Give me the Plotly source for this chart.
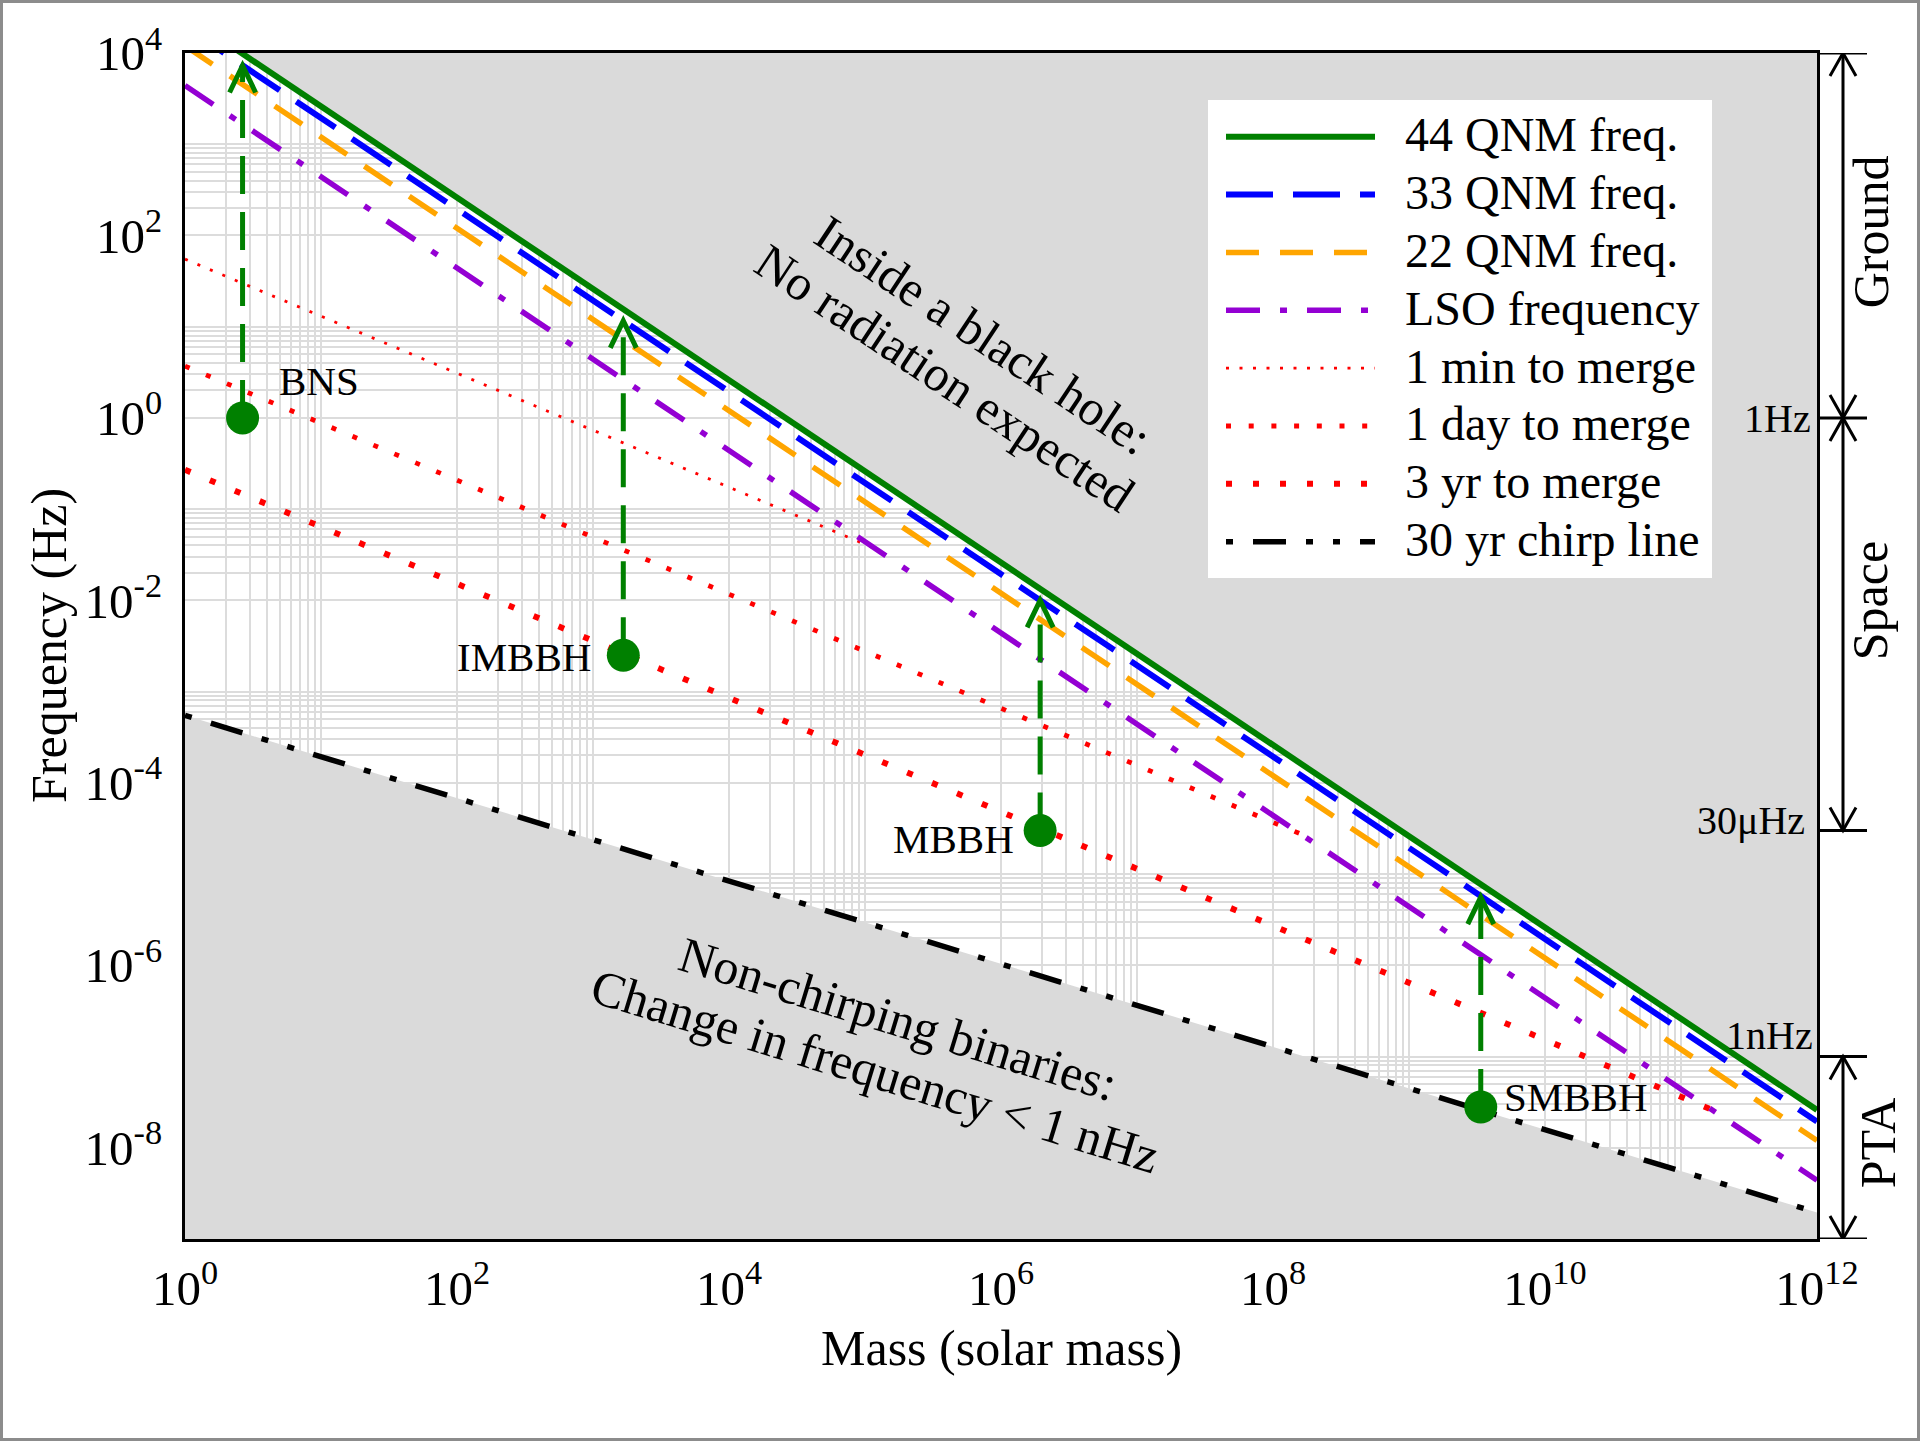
import math
import plotly.graph_objects as go

# ---------------------------------------------------------------- data ---
# Straight (power-law) curves in the log-log plane, given by their end points:
# mass in solar masses, frequency in Hz.
mass_span = [1.0, 1.0e12]
freq_qnm44 = [2.6e4, 2.6e-8]
freq_qnm33 = [1.94e4, 1.94e-8]
freq_qnm22 = [1.2e4, 1.2e-8]
freq_lso = [4.4e3, 4.4e-9]
freq_chirp30yr = [5.5e-4, 1.95e-9]

# time-to-merger lines stop where they meet the LSO line
mass_1min = [1.0, 1.3e5]
freq_1min = [55.0, 3.5e-2]
mass_1day = [1.0, 1.6e8]
freq_1day = [3.7, 2.75e-5]
mass_3yr = [1.0, 1.7e11]
freq_3yr = [0.27, 2.6e-8]

# example sources: starting frequency and ringdown frequency
source_names = ["BNS", "IMBBH", "MBBH", "SMBBH"]
source_mass = [2.65, 1.67e3, 1.94e6, 3.37e9]
source_freq_start = [1.0, 2.5e-3, 3.0e-5, 2.8e-8]
source_freq_end = [7.3e3, 11.6, 1.0e-2, 5.6e-6]

# detector bands marked at the right of the axes
band_names = ["Ground", "Space", "PTA"]
band_freq_high = [1.0e4, 1.0, 1.0e-7]
band_freq_low = [1.0, 3.0e-5, 1.0e-9]
edge_labels = ["1Hz", "30μHz", "1nHz"]
edge_freqs = [1.0, 3.0e-5, 1.0e-7]

mass_range = [1.0, 1.0e12]
freq_range = [1.0e-9, 1.0e4]
mass_tick_exponents = [0, 2, 4, 6, 8, 10, 12]
freq_tick_exponents = [-8, -6, -4, -2, 0, 2, 4]

series_names = ["44 QNM freq.", "33 QNM freq.", "22 QNM freq.", "LSO frequency",
                "1 min to merge", "1 day to merge", "3 yr to merge", "30 yr chirp line"]

# --------------------------------------------------------------- style ---
FONT = "Liberation Serif"
GREY = "#dadada"
GRID = "#dcdcdc"
GREEN = "#008000"

series_styles = [
    dict(color=GREEN, width=6, dash="solid"),
    dict(color="#0000ff", width=6, dash="47px,20px"),
    dict(color="#ffa500", width=5.5, dash="33px,21px"),
    dict(color="#9400d3", width=5.5, dash="34px,20px,7px,20px"),
    dict(color="#ff0000", width=2.8, dash="3px,10.5px"),
    dict(color="#ff0000", width=4.8, dash="5px,17.7px"),
    dict(color="#ff0000", width=6, dash="6px,21px"),
    dict(color="#000000", width=5.5, dash="7px,20px,33px,20px,7px,20px"),
]
series_data = [
    (mass_span, freq_qnm44), (mass_span, freq_qnm33), (mass_span, freq_qnm22),
    (mass_span, freq_lso), (mass_1min, freq_1min), (mass_1day, freq_1day),
    (mass_3yr, freq_3yr), (mass_span, freq_chirp30yr),
]

# page geometry (pixels)
W, H = 1920, 1442
L, R, T, B = 185, 1817, 53, 1239


def px(x):
    return (x - L) / (R - L)


def py(y):
    return (B - y) / (B - T)


fig = go.Figure()

# shaded regions: above the highest ringdown line, below the chirp line
fig.add_trace(go.Scatter(
    x=[mass_span[0], mass_span[1], mass_span[1]],
    y=[freq_qnm44[0], freq_qnm44[1], freq_qnm44[0]],
    fill="toself", fillcolor=GREY, mode="lines",
    line=dict(width=0, color=GREY), hoverinfo="skip", showlegend=False))
fig.add_trace(go.Scatter(
    x=[mass_span[0], mass_span[1], mass_span[1], mass_span[0]],
    y=[freq_chirp30yr[0], freq_chirp30yr[1], freq_range[0], freq_range[0]],
    fill="toself", fillcolor=GREY, mode="lines",
    line=dict(width=0, color=GREY), hoverinfo="skip", showlegend=False))

# characteristic lines, drawn bottom-up so the ringdown lines sit on top
for idx in [7, 6, 5, 4, 3, 2, 1, 0]:
    (mx, fy), st = series_data[idx], series_styles[idx]
    fig.add_trace(go.Scatter(x=mx, y=fy, mode="lines", name=series_names[idx],
                             line=dict(color=st["color"], width=st["width"], dash=st["dash"]),
                             showlegend=False))

# source tracks: dashed rise from the starting frequency to ringdown
for m, f0, f1 in zip(source_mass, source_freq_start, source_freq_end):
    fig.add_trace(go.Scatter(x=[m, m], y=[f0, f1], mode="lines",
                             line=dict(color=GREEN, width=5, dash="38px,18px"),
                             showlegend=False, hoverinfo="skip"))
fig.add_trace(go.Scatter(x=source_mass, y=source_freq_start, mode="markers",
                         marker=dict(color=GREEN, size=33, symbol="circle"),
                         text=source_names, showlegend=False))

annotations = []
shapes = []

V_UP = "M-13,-27 L0,0 L13,-27"       # open head, tip at the anchor, pointing up
V_UP_S = "M-13,-23 L0,0 L13,-23"
V_DOWN_S = "M-13,23 L0,0 L13,23"

# open arrow heads on the source tracks
for m, f1 in zip(source_mass, source_freq_end):
    shapes.append(dict(type="path", xref="x", yref="y", xsizemode="pixel", ysizemode="pixel",
                       xanchor=m, yanchor=f1, path=V_UP,
                       line=dict(color=GREEN, width=5), layer="above"))

# source labels
label_specs = [
    ("BNS", 0.676, 0.40, "left"),
    ("IMBBH", 3.0, -2.62, "right"),
    ("MBBH", 6.11, -4.62, "right"),
    ("SMBBH", 9.684, -7.44, "left"),
]
for txt, lx, ly, anc in label_specs:
    annotations.append(dict(x=lx, y=ly, xref="x", yref="y", text=txt, showarrow=False,
                            xanchor=anc, yanchor="middle",
                            font=dict(family=FONT, size=41, color="black")))

# region notes
region_notes = [
    ("Inside a black hole:", 5.868, 0.906, 33.5),
    ("No radiation expected", 5.588, 0.435, 33.5),
    ("Non-chirping binaries:", 5.243, -6.59, 17),
    ("Change in frequency < 1 nHz", 5.074, -7.16, 17),
]
for txt, lx, ly, ang in region_notes:
    annotations.append(dict(x=lx, y=ly, xref="x", yref="y", text=txt, showarrow=False,
                            textangle=ang, xanchor="center", yanchor="middle",
                            font=dict(family=FONT, size=50, color="black")))

# detector band brackets on the right
BX = 1843
for f in [freq_range[1]] + edge_freqs + [freq_range[0]]:
    shapes.append(dict(type="line", xref="paper", yref="y", x0=px(1817), x1=px(1867),
                       y0=f, y1=f, line=dict(color="black", width=3), layer="above"))
for hi, lo in zip(band_freq_high, band_freq_low):
    shapes.append(dict(type="line", xref="paper", yref="y", x0=px(BX), x1=px(BX),
                       y0=hi, y1=lo, line=dict(color="black", width=3), layer="above"))
    for f, head in ((hi, V_UP_S), (lo, V_DOWN_S)):
        shapes.append(dict(type="path", xref="paper", yref="y", xsizemode="pixel",
                           ysizemode="pixel", xanchor=px(BX), yanchor=f, path=head,
                           line=dict(color="black", width=3), layer="above"))
band_label_pos = [(1871, 2.035), (1870, -2.01), (1878, -7.95)]
for name, (bx, by) in zip(band_names, band_label_pos):
    annotations.append(dict(x=px(bx), y=by, xref="paper", yref="y", text=name,
                            showarrow=False, textangle=-90, xanchor="center",
                            yanchor="middle", font=dict(family=FONT, size=50, color="black")))
edge_label_pos = [(1813, -0.01), (1807, -4.41), (1815, -6.77)]
for txt, (ex, ey) in zip(edge_labels, edge_label_pos):
    annotations.append(dict(x=px(ex), y=ey, xref="paper", yref="y", text=txt,
                            showarrow=False, xanchor="right", yanchor="middle",
                            font=dict(family=FONT, size=40, color="black")))

# legend drawn as a boxed list of line samples
shapes.append(dict(type="rect", xref="paper", yref="paper", x0=px(1208), x1=px(1712),
                   y0=py(578), y1=py(100), fillcolor="white", line=dict(width=0),
                   layer="above"))
ROW0, ROWSTEP = 136.7, 57.86
for i, (name, st) in enumerate(zip(series_names, series_styles)):
    ry = ROW0 + i * ROWSTEP
    shapes.append(dict(type="line", xref="paper", yref="paper", x0=px(1226), x1=px(1375),
                       y0=py(ry), y1=py(ry),
                       line=dict(color=st["color"], width=st["width"], dash=st["dash"]),
                       layer="above"))
    annotations.append(dict(x=px(1403), y=py(ry - 2), xref="paper", yref="paper", text=name,
                            showarrow=False, xanchor="left", yanchor="middle",
                            font=dict(family=FONT, size=48, color="black")))

# axis titles
annotations.append(dict(x=px(1001), y=py(1348), xref="paper", yref="paper",
                        text="Mass (solar mass)", showarrow=False,
                        xanchor="center", yanchor="middle",
                        font=dict(family=FONT, size=50, color="black")))
annotations.append(dict(x=px(49), y=0.5, xref="paper", yref="paper",
                        text="Frequency (Hz)", showarrow=False, textangle=-90,
                        xanchor="center", yanchor="middle",
                        font=dict(family=FONT, size=50, color="black")))

# outer frame of the figure
shapes.append(dict(type="rect", xref="paper", yref="paper", x0=px(1.5), x1=px(1918.5),
                   y0=py(1439.5), y1=py(1.5), line=dict(color="#8c8c8c", width=3),
                   layer="above"))


def log_grid(exponents, lo, hi):
    """Major ticks at 10^e (e even) plus grid at 2..10 x 10^e inside each such decade."""
    major_vals, major_text, minor_vals = [], [], []
    for e in range(exponents[0] - 2, exponents[-1] + 1, 2):
        for k in range(1, 11):
            v = k * 10.0 ** e
            if not (lo * 0.999 <= v <= hi * 1.001):
                continue
            if k == 1 and e in exponents:
                major_vals.append(v)
                major_text.append(f"10<sup>{e}</sup>")
            else:
                minor_vals.append(v)
    return major_vals, major_text, minor_vals


xv, xt, xm = log_grid(mass_tick_exponents, *mass_range)
yv, yt, ym = log_grid(freq_tick_exponents, *freq_range)

axis_common = dict(type="log", showgrid=True, gridcolor=GRID, gridwidth=2, ticks="",
                   showline=True, linecolor="black", linewidth=3, mirror=True,
                   zeroline=False, tickfont=dict(family=FONT, size=49, color="black"))

fig.update_layout(
    width=W, height=H,
    margin=dict(l=L, r=W - R, t=T, b=H - B, autoexpand=False),
    paper_bgcolor="white", plot_bgcolor="white",
    showlegend=False,
    xaxis=dict(range=[math.log10(mass_range[0]), math.log10(mass_range[1])],
               tickvals=xv, ticktext=xt, ticklabelstandoff=4,
               minor=dict(tickvals=xm, showgrid=True, gridcolor=GRID, gridwidth=2, ticks=""),
               **axis_common),
    yaxis=dict(range=[math.log10(freq_range[0]), math.log10(freq_range[1])],
               tickvals=yv, ticktext=yt, ticklabelstandoff=10,
               minor=dict(tickvals=ym, showgrid=True, gridcolor=GRID, gridwidth=2, ticks=""),
               **axis_common),
    annotations=annotations,
    shapes=shapes,
)

fig.write_html("out.html")
